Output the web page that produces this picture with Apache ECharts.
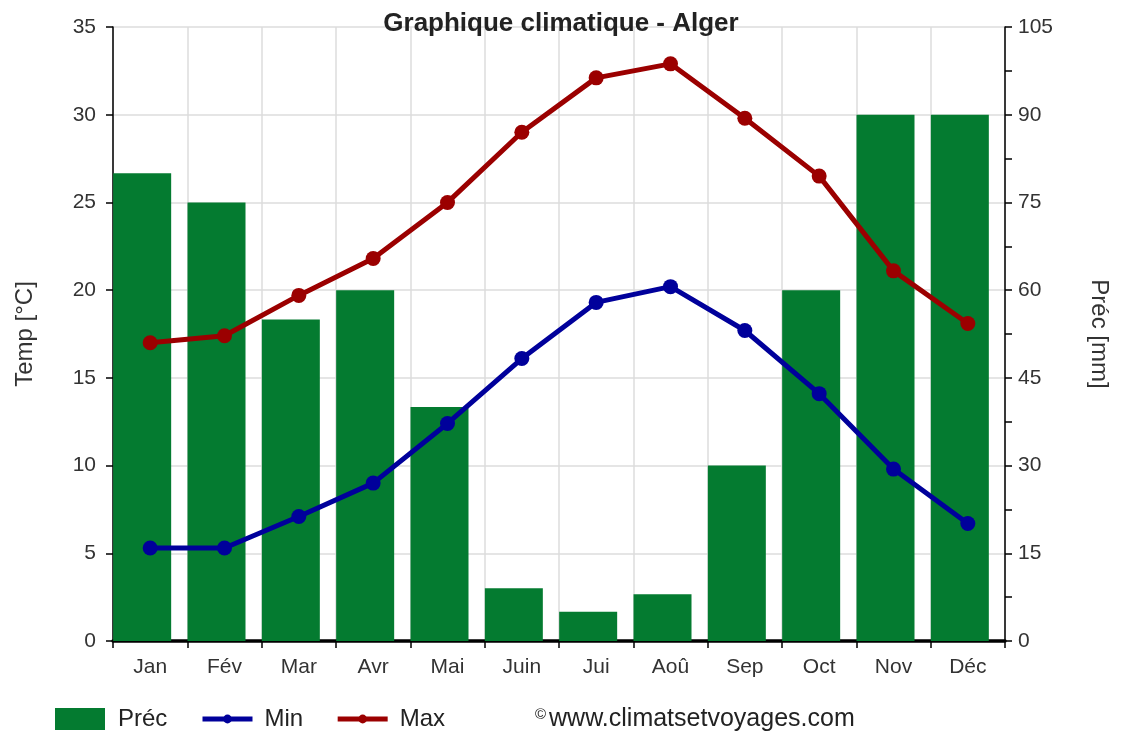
<!DOCTYPE html>
<html>
<head>
<meta charset="utf-8">
<script src="https://cdn.jsdelivr.net/npm/echarts@6/dist/echarts.min.js"></script>
<style>
  html, body { margin: 0; padding: 0; background: #fff; }
  #chart { width: 1122px; height: 733px; }
</style>
</head>
<body>
<div id="chart"></div>
<script>
const months = ["Jan", "Fév", "Mar", "Avr", "Mai", "Juin", "Jui", "Aoû", "Sep", "Oct", "Nov", "Déc"];
const precip = [80, 75, 55, 60, 40, 9, 5, 8, 30, 60, 90, 90];
const tempMin = [5.3, 5.3, 7.1, 9.0, 12.4, 16.1, 19.3, 20.2, 17.7, 14.1, 9.8, 6.7];
const tempMax = [17.0, 17.4, 19.7, 21.8, 25.0, 29.0, 32.1, 32.9, 29.8, 26.5, 21.1, 18.1];

const FONT = "Liberation Sans";
const GREEN = "#047b30";
const BLUE = "#00009b";
const RED = "#9b0000";
const TXT = "#333";

const chart = echarts.init(document.getElementById("chart"));

// bars sit at the left of each month slot, so they get their own grid nudged left
chart.setOption({
  animation: false,
  textStyle: { fontFamily: FONT },
  title: {
    text: "Graphique climatique - Alger",
    left: "center",
    top: 6,
    textStyle: { fontFamily: FONT, fontSize: 26, fontWeight: "bold", color: "#222" },
  },
  grid: [
    { left: 113, right: 117, top: 27, bottom: 92 },
    { left: 105, right: 125, top: 27, bottom: 92 },
  ],
  legend: [
    {
      left: 55,
      top: 707,
      padding: 0,
      itemWidth: 50,
      itemHeight: 22,
      data: [{ name: "Préc", icon: "rect" }],
      textStyle: { fontFamily: FONT, fontSize: 24, color: "#222", padding: [0, 0, 0, 8] },
    },
    {
      left: 200,
      top: 707,
      padding: 0,
      itemWidth: 50,
      itemHeight: 11,
      itemGap: 32,
      lineStyle: { width: 5 },
      data: ["Min", "Max"],
      textStyle: { fontFamily: FONT, fontSize: 24, color: "#222", padding: [0, 0, 0, 7] },
    },
  ],
  graphic: [
    {
      type: "text",
      left: 535,
      top: 707,
      style: {
        text: "{c|©}www.climatsetvoyages.com",
        font: "25px " + FONT,
        fill: "#222",
        rich: { c: { fontSize: 15, verticalAlign: "top", padding: [0, 3, 9, 0], fill: "#222" } },
      },
    },
  ],
  xAxis: [
    {
      type: "category",
      gridIndex: 0,
      data: months,
      boundaryGap: true,
      axisLine: { lineStyle: { color: "#000", width: 3.5 } },
      axisTick: { show: true, length: 7, lineStyle: { color: "#000", width: 1.5 } },
      axisLabel: { fontSize: 21, color: TXT, margin: 16, fontFamily: FONT },
      splitLine: { show: true, lineStyle: { color: "#dcdcdc", width: 1.5 } },
    },
    {
      type: "category",
      gridIndex: 1,
      data: months,
      show: false,
    },
  ],
  yAxis: [
    {
      type: "value",
      gridIndex: 0,
      min: 0,
      max: 35,
      interval: 5,
      name: "Temp [°C]",
      nameLocation: "middle",
      nameGap: 76,
      nameTextStyle: { fontSize: 24, color: TXT, fontFamily: FONT },
      axisLine: { show: true, lineStyle: { color: "#000", width: 1.5 } },
      axisTick: { show: true, length: 7, lineStyle: { color: "#000", width: 1.5 } },
      axisLabel: { fontSize: 21, color: TXT, margin: 17, fontFamily: FONT },
      splitLine: { show: true, lineStyle: { color: "#dcdcdc", width: 1.5 } },
    },
    {
      type: "value",
      gridIndex: 0,
      position: "right",
      min: 0,
      max: 105,
      interval: 7.5,
      name: "Préc [mm]",
      nameLocation: "middle",
      nameRotate: -90,
      nameGap: 82,
      nameTextStyle: { fontSize: 24, color: TXT, fontFamily: FONT },
      axisLine: { show: true, lineStyle: { color: "#000", width: 1.5 } },
      axisTick: { show: true, length: 7, lineStyle: { color: "#000", width: 1.5 } },
      axisLabel: {
        fontSize: 21,
        color: TXT,
        margin: 13,
        fontFamily: FONT,
        formatter: (v) => (v % 15 === 0 ? String(v) : ""),
      },
      splitLine: { show: false },
    },
    {
      type: "value",
      gridIndex: 1,
      min: 0,
      max: 105,
      show: false,
    },
  ],
  series: [
    {
      name: "Préc",
      type: "bar",
      xAxisIndex: 1,
      yAxisIndex: 2,
      data: precip,
      barWidth: 58,
      itemStyle: { color: GREEN },
    },
    {
      name: "Min",
      type: "line",
      xAxisIndex: 0,
      yAxisIndex: 0,
      data: tempMin,
      symbol: "circle",
      symbolSize: 15,
      lineStyle: { color: BLUE, width: 5 },
      itemStyle: { color: BLUE },
      z: 3,
    },
    {
      name: "Max",
      type: "line",
      xAxisIndex: 0,
      yAxisIndex: 0,
      data: tempMax,
      symbol: "circle",
      symbolSize: 15,
      lineStyle: { color: RED, width: 5 },
      itemStyle: { color: RED },
      z: 3,
    },
  ],
});
</script>
</body>
</html>
